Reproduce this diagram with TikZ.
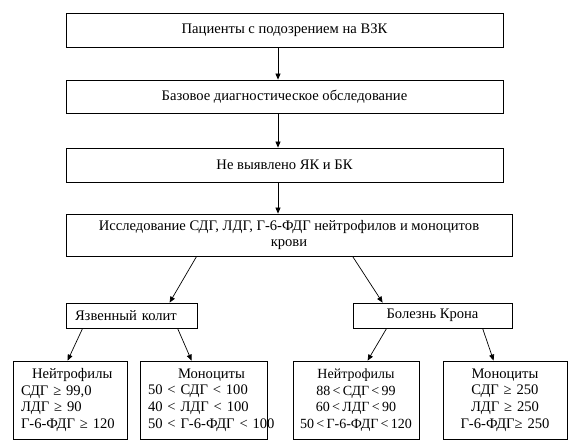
\documentclass[tikz,border=0pt]{standalone}
\usepackage{fontspec}
\setmainfont{Liberation Serif}
\usetikzlibrary{arrows.meta}
\newcommand{\tlt}{\hspace{2.3pt}<\hspace{2.3pt}}
\begin{document}
\begin{tikzpicture}[x=1pt,y=-1pt,
  box/.style={draw,line width=0.8pt,rectangle,inner sep=0pt,anchor=center,
    font=\fontsize{14.6}{16.7}\selectfont},
  arr/.style={line width=0.7pt,-{Triangle[length=6pt,width=5pt]}}]
\useasboundingbox (0,0) rectangle (581,444);
\node[box,minimum width=437pt,minimum height=34pt] (b1) at (284.5,30) {Пациенты с подозрением на ВЗК};
\node[box,minimum width=437pt,minimum height=33pt] (b2) at (284.5,96.5) {Базовое диагностическое обследование};
\node[box,minimum width=437pt,minimum height=34pt] (b3) at (284.5,165) {Не выявлено ЯК и БК};
\node[box,minimum width=446pt,minimum height=42pt,align=center] (b4) at (289,235) {Исследование СДГ, ЛДГ, Г-6-ФДГ нейтрофилов и моноцитов\\крови};
\node[box,minimum width=131pt,minimum height=25pt,inner xsep=9pt,text width=113pt,align=left] (yk) at (131.5,315.5) {Язвенный колит};
\node[box,minimum width=159pt,minimum height=25pt,align=center] (bk) at (432.5,315.5) {Болезнь Крона};
\node[box,minimum width=114pt,minimum height=78pt,inner xsep=8pt,text width=98pt,align=left] (n1) at (70,400) {\hspace*{11pt}Нейтрофилы\\\mbox{СДГ ≥ 99,0}\\\mbox{ЛДГ ≥ 90}\\\mbox{Г-6-ФДГ ≥ 120}};
\node[box,minimum width=127pt,minimum height=78pt,inner xsep=8pt,text width=111pt,align=left] (n2) at (203.5,400) {\hspace*{30pt}Моноциты\\\mbox{50 < СДГ < 100}\\\mbox{40 < ЛДГ < 100}\\\mbox{50 < Г-6-ФДГ < 100}};
\node[box,minimum width=126pt,minimum height=78pt,text width=126pt,align=center,font=\fontsize{14}{16.7}\selectfont] (n3) at (356,400) {Нейтрофилы\\\mbox{88\tlt СДГ\tlt 99}\\\mbox{60\tlt ЛДГ\tlt 90}\\\mbox{50\tlt Г-6-ФДГ\tlt 120}};
\node[box,minimum width=124pt,minimum height=78pt,text width=124pt,align=center] (n4) at (505,400) {Моноциты\\\mbox{СДГ ≥ 250}\\\mbox{ЛДГ ≥ 250}\\\mbox{Г-6-ФДГ≥ 250}};
\draw[arr] ([xshift=-6.5pt]b1.south) -- ([xshift=-6.5pt]b2.north);
\draw[arr] ([xshift=-6.5pt]b2.south) -- ([xshift=-6.5pt]b3.north);
\draw[arr] ([xshift=-6.5pt]b3.south) -- ([xshift=-11pt]b4.north);
\draw[arr] ([xshift=131pt]b4.south west) -- ([xshift=104pt]yk.north west);
\draw[arr] ([xshift=287pt]b4.south west) -- ([xshift=30pt]bk.north west);
\draw[arr] ([xshift=17pt]yk.south west) -- ([xshift=55pt]n1.north west);
\draw[arr] ([xshift=112pt]yk.south west) -- ([xshift=52pt]n2.north west);
\draw[arr] ([xshift=34pt]bk.south west) -- ([xshift=75pt]n3.north west);
\draw[arr] ([xshift=130pt]bk.south west) -- ([xshift=51pt]n4.north west);
\end{tikzpicture}
\end{document}
